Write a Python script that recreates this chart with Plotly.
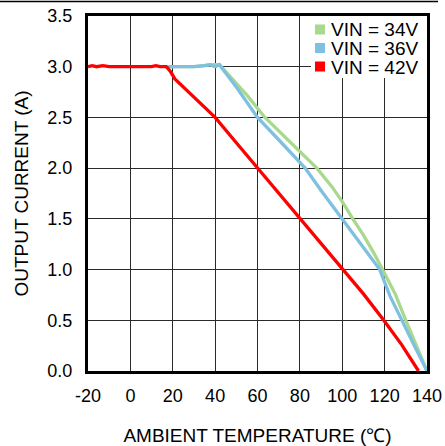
import plotly.graph_objects as go

# Data
temp_34v = [18, 30, 35, 37.5, 42, 45, 50, 55, 63.5, 70, 80, 88, 95, 100, 105, 110, 115, 119, 125, 130, 135, 140]
curr_34v = [3.0, 3.0, 3.01, 3.02, 3.02, 2.95, 2.84, 2.72, 2.5, 2.37, 2.17, 2.0, 1.82, 1.67, 1.5, 1.34, 1.16, 1.0, 0.76, 0.5, 0.26, 0.0]

temp_36v = [18, 30, 35, 37.5, 40, 42, 50, 60, 70, 82.5, 90, 100, 110, 117.7, 122.5, 128, 134, 140]
curr_36v = [3.0, 3.0, 3.01, 3.02, 3.0, 3.02, 2.8, 2.5, 2.28, 2.0, 1.78, 1.5, 1.22, 1.0, 0.74, 0.5, 0.25, 0.0]

temp_42v = [-20, -18, -16, -13, -10, 0, 10, 12, 14, 17, 19, 21, 29, 40, 50, 60, 70, 80.5, 90, 100.3, 110, 119.6, 128, 136]
curr_42v = [3.0, 3.01, 3.0, 3.01, 3.0, 3.0, 3.0, 3.01, 3.0, 3.0, 2.95, 2.88, 2.72, 2.5, 2.25, 2.0, 1.75, 1.5, 1.26, 1.0, 0.76, 0.5, 0.26, 0.0]

legend_labels = ["VIN = 34V", "VIN = 36V", "VIN = 42V"]
colors = ["#A9D98C", "#7EC0E0", "#FF0000"]

x_ticks = [-20, 0, 20, 40, 60, 80, 100, 120, 140]
y_ticks = [0.0, 0.5, 1.0, 1.5, 2.0, 2.5, 3.0, 3.5]

FONT = "Liberation Sans, Arial, sans-serif"

fig = go.Figure()
series = [(temp_34v, curr_34v), (temp_36v, curr_36v), (temp_42v, curr_42v)]
for (xs, ys), name, c in zip(series, legend_labels, colors):
    fig.add_trace(go.Scatter(x=xs, y=ys, mode="lines", name=name,
                             line=dict(color=c, width=3.3), showlegend=False))

# geometry of plot area in pixels
L, R, T, B = 88, 427, 16, 371
W, H = R - L, B - T

def px(xp):
    return (xp - L) / W

def py(yp):
    return (B - yp) / H

shapes = []
# legend background box (covers gridlines)
shapes.append(dict(type="rect", xref="paper", yref="paper", x0=px(311), x1=1.0,
                   y0=py(78), y1=1.0, fillcolor="white", line=dict(width=0), layer="above"))
# top horizontal rule (thin filled band)
shapes.append(dict(type="rect", xref="paper", yref="paper", x0=px(0), x1=px(438),
                   y0=py(2.2), y1=py(0.8), fillcolor="black", line=dict(width=0), layer="above"))

annotations = []
row_y = [30, 48.5, 67]
for lab, c, ry in zip(legend_labels, colors, row_y):
    shapes.append(dict(type="rect", xref="paper", yref="paper",
                       x0=px(315), x1=px(325), y0=py(ry + 4.5), y1=py(ry - 5.5),
                       fillcolor=c, line=dict(width=0), layer="above"))
    annotations.append(dict(xref="paper", yref="paper", x=px(329), y=py(ry), text=lab,
                            showarrow=False, xanchor="left", yanchor="middle",
                            font=dict(family=FONT, size=19, color="black")))

fig.update_layout(
    width=445, height=446,
    margin=dict(l=L, r=445 - R, t=T, b=446 - B, autoexpand=False),
    paper_bgcolor="white", plot_bgcolor="white",
    font=dict(family=FONT, size=18, color="black"),
    shapes=shapes, annotations=annotations,
    showlegend=False,
)
fig.update_xaxes(range=[-20, 140], tickvals=x_ticks, ticktext=[str(v) for v in x_ticks],
                 showgrid=True, gridcolor="#2a2a2a", gridwidth=1, automargin=False,
                 showline=True, linecolor="black", linewidth=3, mirror=True,
                 zeroline=False, ticks="", ticklabelstandoff=6,
                 tickfont=dict(size=18),
                 title=dict(text="AMBIENT TEMPERATURE (℃)", font=dict(size=19), standoff=25))
fig.update_yaxes(range=[0, 3.5], tickvals=y_ticks, ticktext=[f"{v:.1f}" for v in y_ticks],
                 showgrid=True, gridcolor="#2a2a2a", gridwidth=1, automargin=False,
                 showline=True, linecolor="black", linewidth=3, mirror=True,
                 zeroline=False, ticks="", ticklabelstandoff=9,
                 tickfont=dict(size=18),
                 title=dict(text="OUTPUT CURRENT (A)", font=dict(size=19), standoff=14))

fig.write_html("out.html", config={"displayModeBar": False},
               post_script="document.body.style.margin='0';")
